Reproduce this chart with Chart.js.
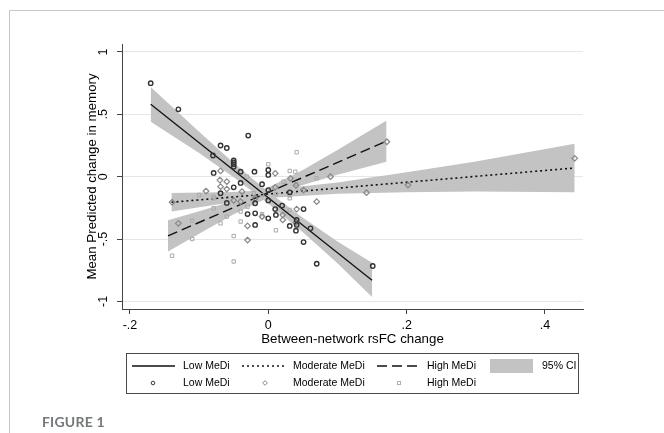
<!DOCTYPE html>
<html>
<head>
<meta charset="utf-8">
<script src="https://cdn.jsdelivr.net/npm/chart.js@4.4.1/dist/chart.umd.min.js"></script>
<style>
  body { margin: 0; background: #fff; }
  #wrap { position: relative; width: 664px; height: 433px; overflow: hidden; }
  #frame { position: absolute; left: 9px; top: 10px; right: -2px; bottom: -2px;
           border-top: 1.5px solid #c8c8c8; border-left: 1.5px solid #c8c8c8; }
  #caption { position: absolute; left: 42px; top: 413px; font: 700 14px Lato, "Open Sans", sans-serif;
             color: #74787b; letter-spacing: 0.2px; }
  canvas { position: absolute; left: 0; top: 0; }
</style>
</head>
<body>
<div id="wrap">
  <div id="frame"></div>
  <canvas id="memChart" width="664" height="433"></canvas>
  <div id="caption">FIGURE 1</div>
</div>
<script>
// scatter points
const lowX = [-0.17, -0.13, -0.069, -0.06, -0.029, -0.08, -0.079, -0.05, -0.05, -0.05, -0.05, -0.04, -0.02, 0.0, 0.0,
              -0.04, -0.069, -0.009, -0.05, 0.0, -0.06, -0.019, 0.0, 0.01, 0.051, -0.03, -0.019, 0.0, -0.019, 0.031,
              0.041, 0.061, 0.04, 0.051, 0.07, 0.151, 0.031, 0.02, 0.041, 0.011];
const lowY = [0.75, 0.54, 0.25, 0.23, 0.33, 0.17, 0.03, 0.13, 0.10, 0.08, 0.115, 0.04, 0.04, 0.054, 0.014,
              -0.05, -0.133, -0.06, -0.085, -0.107, -0.21, -0.213, -0.19, -0.26, -0.26, -0.30, -0.294, -0.334, -0.387, -0.395,
              -0.387, -0.414, -0.433, -0.524, -0.698, -0.716, -0.125, -0.232, -0.347, -0.307];

const modX = [-0.139, -0.13, -0.09, -0.069, -0.07, -0.06, -0.069, -0.06, -0.038, -0.019, -0.05, -0.04, 0.01, 0.032, 0.09,
              0.01, 0.051, 0.041, 0.07, -0.009, -0.03, -0.03, 0.021, 0.04, 0.021, 0.142, 0.202, 0.443, 0.1715, 0.04];
const modY = [-0.205, -0.374, -0.115, 0.046, -0.027, -0.04, -0.08, -0.099, -0.12, -0.173, -0.19, -0.20, 0.027, -0.013, 0.0,
              -0.085, -0.107, -0.26, -0.20, -0.32, -0.395, -0.508, -0.307, -0.369, -0.347, -0.128, -0.067, 0.147, 0.28, -0.07];

const highX = [-0.139, -0.11, -0.11, -0.1, -0.079, -0.079, -0.079, -0.069, -0.06, -0.05, -0.05, -0.04, -0.04, -0.03, -0.031,
               -0.021, -0.009, -0.009, -0.009, 0.0, 0.041, 0.031, 0.039, 0.022, 0.041, 0.031, 0.031, 0.031, 0.07, 0.011,
               0.031, 0.011];
const highY = [-0.634, -0.5, -0.353, -0.147, -0.16, -0.173, -0.253, -0.374, -0.32, -0.476, -0.68, -0.28, -0.36, -0.24, 0.0,
               -0.133, -0.147, -0.30, -0.32, 0.10, 0.196, 0.046, 0.04, -0.04, -0.059, -0.128, -0.15, -0.173, -0.013, -0.139,
               -0.267, -0.43];

// fitted lines (end points)
const lowFitX = [-0.17, 0.15],   lowFitY = [0.58, -0.83];
const modFitX = [-0.14, 0.443],  modFitY = [-0.205, 0.07];
const highFitX = [-0.145, 0.171], highFitY = [-0.475, 0.285];

// 95% CI bands
const lowBandX = [-0.17, -0.1, -0.05, 0, 0.05, 0.1, 0.15];
const lowBandHi = [0.72, 0.36, 0.11, -0.12, -0.33, -0.52, -0.69];
const lowBandLo = [0.44, 0.19, -0.005, -0.215, -0.445, -0.695, -0.965];
const modBandX = [-0.14, -0.05, 0, 0.1, 0.2, 0.3, 0.443];
const modBandHi = [-0.13, -0.123, -0.107, -0.047, 0.035, 0.122, 0.265];
const modBandLo = [-0.28, -0.203, -0.171, -0.137, -0.125, -0.118, -0.125];
const highBandX = [-0.145, -0.1, -0.05, 0, 0.05, 0.1, 0.171];
const highBandHi = [-0.35, -0.277, -0.192, -0.086, 0.054, 0.215, 0.45];
const highBandLo = [-0.6, -0.457, -0.302, -0.166, -0.066, 0.015, 0.12];

// axis ticks
const xTickValues = [-0.2, 0, 0.2, 0.4];
const xTickLabels = ['-.2', '0', '.2', '.4'];
const yTickValues = [-1, -0.5, 0, 0.5, 1];
const yTickLabels = ['-1', '-.5', '0', '.5', '1'];

const FONT = '"Liberation Sans", Arial, Helvetica, sans-serif';
const BAND = '#c3c3c3';

const pts = (xs, ys) => xs.map((x, i) => ({ x: x, y: ys[i] }));

function band(xs, hi, lo) {
    return [
        { type: 'line', data: pts(xs, hi), borderWidth: 0, pointRadius: 0, fill: '+1', backgroundColor: BAND, order: 3 },
        { type: 'line', data: pts(xs, lo), borderWidth: 0, pointRadius: 0, fill: false, order: 3 }
    ];
}

const legendPlugin = {
    id: 'stataLegend',
    afterDraw(chart) {
        const ctx = chart.ctx;
        ctx.save();
        ctx.strokeStyle = '#4a4a4a';
        ctx.lineWidth = 1;
        ctx.strokeRect(126.5, 353.5, 452, 40);
        ctx.font = '10.5px ' + FONT;
        ctx.textBaseline = 'middle';
        const r1 = 366, r2 = 383;
        // line samples
        ctx.strokeStyle = '#111';
        ctx.lineWidth = 1.3;
        [[132, 175, []], [242, 285, [2, 3]], [377, 420, [10, 5]]].forEach(s => {
            ctx.setLineDash(s[2]);
            ctx.beginPath(); ctx.moveTo(s[0], r1); ctx.lineTo(s[1], r1); ctx.stroke();
        });
        ctx.setLineDash([]);
        ctx.fillStyle = BAND;
        ctx.fillRect(490, 359, 43, 14);
        ctx.fillStyle = '#000';
        ctx.fillText('Low MeDi', 183, r1);
        ctx.fillText('Moderate MeDi', 293, r1);
        ctx.fillText('High MeDi', 427, r1);
        ctx.fillText('95% CI', 542, r1);
        ctx.fillText('Low MeDi', 183, r2);
        ctx.fillText('Moderate MeDi', 293, r2);
        ctx.fillText('High MeDi', 427, r2);
        // marker samples
        ctx.lineWidth = 1;
        ctx.strokeStyle = '#3a3a3a';
        ctx.beginPath(); ctx.arc(153, r2, 1.8, 0, Math.PI * 2); ctx.stroke();
        ctx.strokeStyle = '#8a8a8a';
        ctx.beginPath(); ctx.moveTo(265, r2 - 2.3); ctx.lineTo(267.3, r2); ctx.lineTo(265, r2 + 2.3); ctx.lineTo(262.7, r2); ctx.closePath(); ctx.stroke();
        ctx.strokeStyle = '#b0b0b0';
        ctx.strokeRect(397.5, r2 - 1.5, 3, 3);
        ctx.restore();
    }
};

const ctx = document.getElementById('memChart').getContext('2d');
const memChart = new Chart(ctx, {
    type: 'scatter',
    data: {
        datasets: [
            {
                data: pts(lowX, lowY), pointStyle: 'circle', pointRadius: 2.2,
                borderColor: '#333', borderWidth: 1.4, backgroundColor: 'rgba(255,255,255,0)', order: 0
            },
            {
                data: pts(modX, modY), pointStyle: 'rectRot', pointRadius: 2.8,
                borderColor: '#888', borderWidth: 1.2, backgroundColor: 'rgba(255,255,255,0)', order: 0
            },
            {
                data: pts(highX, highY), pointStyle: 'rect', pointRadius: 2.4,
                borderColor: '#aaa', borderWidth: 1, backgroundColor: 'rgba(255,255,255,0)', order: 0
            },
            { type: 'line', data: pts(lowFitX, lowFitY), borderColor: '#111', borderWidth: 1.3, pointRadius: 0, fill: false, order: 1 },
            { type: 'line', data: pts(modFitX, modFitY), borderColor: '#111', borderWidth: 1.6, borderDash: [2, 3], pointRadius: 0, fill: false, order: 1 },
            { type: 'line', data: pts(highFitX, highFitY), borderColor: '#111', borderWidth: 1.4, borderDash: [10, 5], pointRadius: 0, fill: false, order: 1 },
            ...band(lowBandX, lowBandHi, lowBandLo),
            ...band(modBandX, modBandHi, modBandLo),
            ...band(highBandX, highBandHi, highBandLo)
        ]
    },
    options: {
        responsive: false,
        animation: false,
        events: [],
        layout: { padding: { left: 0, top: 44, right: 81, bottom: 86 } },
        plugins: { legend: { display: false }, tooltip: { enabled: false } },
        scales: {
            x: {
                type: 'linear', min: -0.2115, max: 0.455,
                afterBuildTicks: s => { s.ticks = xTickValues.map(v => ({ value: v })); },
                afterFit: s => { s.height = 38; },
                grid: { drawOnChartArea: false, tickColor: '#444', tickLength: 5 },
                border: { color: '#444', width: 1 },
                ticks: {
                    color: '#000', padding: 4, maxRotation: 0,
                    font: { family: FONT, size: 12.5 },
                    callback: v => xTickLabels[xTickValues.indexOf(v)]
                },
                title: {
                    display: true, text: 'Between-network rsFC change', color: '#000',
                    font: { family: FONT, size: 13.3 }, padding: { top: 0, bottom: 0 }
                }
            },
            y: {
                type: 'linear', min: -1.061, max: 1.064,
                afterBuildTicks: s => { s.ticks = yTickValues.map(v => ({ value: v })); },
                afterFit: s => { s.width = 122; },
                grid: { color: '#e6e6e6', lineWidth: 1, tickColor: '#444', tickLength: 5 },
                border: { color: '#444', width: 1 },
                ticks: {
                    color: '#000', padding: 6.5, minRotation: 90, maxRotation: 90, crossAlign: 'center',
                    font: { family: FONT, size: 12.5 },
                    callback: v => yTickLabels[yTickValues.indexOf(v)]
                },
                title: {
                    display: true, text: 'Mean Predicted change in memory', color: '#000',
                    font: { family: FONT, size: 13.3 }, padding: { top: 84, bottom: 0 }
                }
            }
        }
    },
    plugins: [legendPlugin]
});
</script>
</body>
</html>
